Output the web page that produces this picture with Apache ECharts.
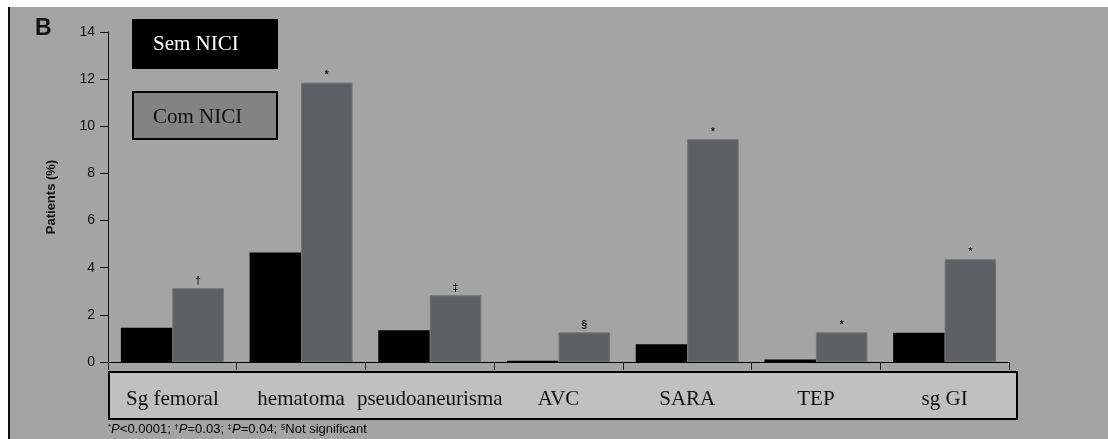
<!DOCTYPE html>
<html><head><meta charset="utf-8">
<script src="https://cdn.jsdelivr.net/npm/echarts@6/dist/echarts.min.js"></script>
<style>html,body{margin:0;padding:0;background:#fff}#c{width:1108px;height:439px}</style>
</head><body><div id="c"></div>
<script>
const categories = ['Sg femoral','hematoma','pseudoaneurisma','AVC','SARA','TEP','sg GI'];
const semNICI = [1.45, 4.65, 1.35, 0.05, 0.75, 0.11, 1.24];
const comNICI = [3.13, 11.85, 2.83, 1.26, 9.45, 1.26, 4.36];
const marks = ['\u2020','*','\u2021','\u00a7','*','*','*'];
const yTicks = [0,2,4,6,8,10,12,14];

const chart = echarts.init(document.getElementById('c'), null, {renderer:'canvas'});
const sans = 'Liberation Sans, Arial, sans-serif';
const serif = 'Liberation Serif, Times New Roman, serif';
chart.setOption({
  backgroundColor: '#ffffff',
  animation: false,
  grid: {left:108, right:99, top:32, bottom:77, containLabel:false},
  xAxis: {
    type:'category', data: categories, z: 5,
    axisLine:{lineStyle:{color:'#000', width:1}},
    axisTick:{show:true, interval:0, length:8, lineStyle:{color:'#222'}},
    axisLabel:{interval:0, margin:27, fontFamily:serif, fontSize:21, color:'#111'}
  },
  yAxis: {
    type:'value', min: yTicks[0], max: yTicks[yTicks.length-1], interval: 2,
    name:'Patients (%)', nameLocation:'middle', nameRotate:90, nameGap:50,
    nameTextStyle:{fontFamily:sans, fontWeight:'bold', fontSize:13, color:'#111'},
    axisLine:{show:true, lineStyle:{color:'#111', width:1}},
    axisTick:{show:true, length:8, lineStyle:{color:'#111'}},
    axisLabel:{margin:13, fontFamily:sans, fontSize:14, color:'#111'},
    splitLine:{show:false}
  },
  graphic: [
    {type:'rect', z:-10, shape:{x:9,y:7,width:1099,height:432}, style:{fill:'#a4a4a4'}},
    {type:'rect', z:-9, shape:{x:8,y:7,width:2,height:432}, style:{fill:'#111'}},
    {type:'text', left:35, top:17, style:{text:'B', font:'bold 23px '+sans, fill:'#111'}},
    {type:'rect', z:1, shape:{x:132,y:19,width:146,height:50}, style:{fill:'#000'}},
    {type:'text', z:2, left:153, top:34, style:{text:'Sem NICI', font:'21px '+serif, fill:'#fff'}},
    {type:'rect', z:1, shape:{x:133,y:92,width:144,height:47}, style:{fill:'#838383', stroke:'#000', lineWidth:2}},
    {type:'text', z:2, left:153, top:107, style:{text:'Com NICI', font:'21px '+serif, fill:'#111'}},
    {type:'rect', z:1, shape:{x:109,y:372,width:908,height:47}, style:{fill:'#c0c0c0', stroke:'#000', lineWidth:2}},
    {type:'text', z:2, left:108, top:423, style:{
      text:'{s|*}{i|P}{n|<0.0001; }{s|\u2020}{i|P}{n|=0.03; }{s|\u2021}{i|P}{n|=0.04; }{s|\u00a7}{n|Not significant}',
      rich:{
        n:{fontFamily:sans, fontSize:13, color:'#111'},
        i:{fontFamily:sans, fontSize:13, fontStyle:'italic', color:'#111'},
        s:{fontFamily:sans, fontSize:8, color:'#111', verticalAlign:'top'}
      }
    }}
  ],
  series: [
    {name:'Sem NICI', type:'bar', data: semNICI, barGap:'0%', barCategoryGap:'20%',
     itemStyle:{color:'#000'}},
    {name:'Com NICI', type:'bar', data: comNICI, barGap:'0%', barCategoryGap:'20%',
     itemStyle:{color:'#5f6064', borderColor:'#727272', borderWidth:1},
     label:{show:true, position:'top', distance:2, fontFamily:sans, fontSize:10, fontWeight:'bold', color:'#111',
       formatter: p => marks[p.dataIndex]}}
  ]
});
</script></body></html>
